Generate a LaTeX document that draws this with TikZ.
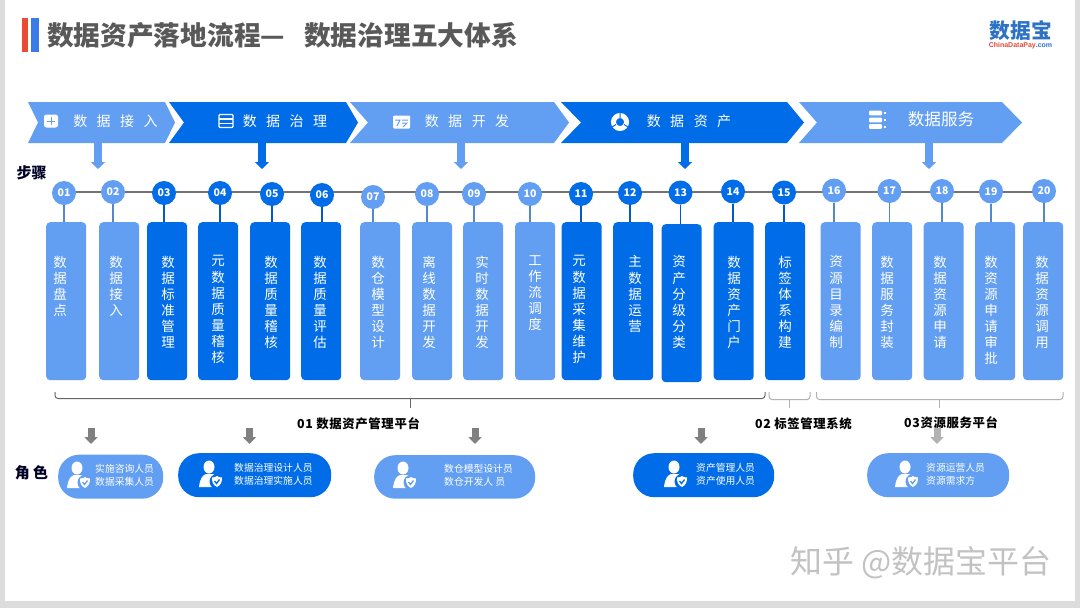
\documentclass[tikz,border=0pt]{standalone}
\usepackage{fontspec}
\usetikzlibrary{arrows.meta,backgrounds}
\setmainfont{Noto Sans CJK SC}
\newfontfamily\latinfont{Liberation Sans}
\newfontfamily\wideboldfont[LetterSpace=5]{Noto Sans CJK SC}
\newcommand{\fsz}[2]{\fontsize{#1}{#2}\selectfont}
\newcommand{\wsp}[1]{\spaceskip #1\relax}
\definecolor{stepl}{HTML}{629FF2}
\definecolor{stepd}{HTML}{006CE8}
\definecolor{pagegray}{HTML}{DCDCDC}
\definecolor{barred}{HTML}{E94B35}
\definecolor{barblue}{HTML}{3B7BE8}
\definecolor{logoblue}{HTML}{2E72C6}
\definecolor{logored}{HTML}{E5483A}
\tikzset{
  numdot/.style={circle,fill=#1,text=white,minimum size=24pt,inner sep=0pt,font=\fsz{10.5}{11}\bfseries},
  stepbox/.style={rectangle,fill=#1,rounded corners=4pt,minimum width=40pt,minimum height=158pt,inner sep=0pt,anchor=north west},
  steptext/.style={anchor=north,inner sep=0pt,align=center,text=white,font=\fsz{13.5}{16.1}},
  phasetext/.style={inner sep=0pt,text=white,font=\fsz{14}{16}\wsp{9.5pt}},
  pillbox/.style={rectangle,fill=#1,rounded corners=21pt,inner sep=0pt},
  pilltext/.style={anchor=west,inner sep=0pt,align=left,text=white,font=\fsz{9.8}{13}},
  bracket/.style={rounded corners=3pt,line width=1pt},
  sidetext/.style={inner sep=0pt,text=black!85!blue,font=\fsz{15}{16}\bfseries\wsp{3pt}},
  platform/.style={anchor=west,inner sep=0pt,font=\wideboldfont\fsz{12.4}{14}\bfseries},
  downarrow/.style={line width=8pt,-{Triangle[length=7pt,width=14pt]}},
  rolearrow/.style={line width=7pt,-{Triangle[length=7pt,width=13pt]}},
  personicon/.pic={
    \fill[white] (-1,-7) ellipse (5.5 and 6.5);
    \fill[white] (-11,13) .. controls (-10,4) and (-7,1) .. (-4,0) -- (3,0) .. controls (7,1) and (9,6) .. (9,13) -- cycle;
    \fill[\col] (7,7.5) circle (7.5);
    \fill[white] (2,3.5) .. controls (4,3.5) and (6,3) .. (7,2) .. controls (8,3) and (10,3.5) .. (12,3.5) .. controls (12,8) and (11,11) .. (7,13) .. controls (3,11) and (2,8) .. (2,3.5) -- cycle;
    \draw[\col,line width=1.3pt] (4.5,7) -- (6.5,9.5) -- (9.5,5.5);
  }
}
\begin{document}
\begin{tikzpicture}[x=1pt,y=-1pt]
  \useasboundingbox (0,0) rectangle (1080,608);
  \begin{scope}[on background layer]
    \fill[pagegray] (0,0) rectangle (1080,608);
    \fill[white] (4.5,0) rectangle (1074.5,601);
  \end{scope}
  % title
  \fill[barred] (22,18) rectangle (28,52);
  \fill[barblue] (31,18) rectangle (39,52);
  \node[anchor=west,inner sep=0pt,text=black!65,font=\fsz{26.7}{30}\bfseries\wsp{19pt}] (title) at (47,35) {数据资产落地流程— 数据治理五大体系};
  \node[inner sep=0pt,text=logoblue,font=\fsz{20.7}{22}\bfseries] (logo) at (1021,31) {数据宝};
  \node[inner sep=0pt,text=logored,font=\latinfont\fsz{7}{8}\bfseries] (logosub) at (1020.5,46) {ChinaDataPay\textcolor{logoblue}{.com}};
  % phases
  \foreach \i/\xa/\xb/\xt/\xn/\col/\ax in {1/28/165/175/38/stepl/98,2/169/346/358/184/stepd/262,3/350/554/569/368/stepl/461,4/561/787/804/581/stepd/685,5/799/1002/1022/817/stepl/929}{
    \fill[\col] (\xa,102) -- (\xb,102) -- (\xt,122.5) -- (\xb,143) -- (\xa,143) -- (\xn,122.5) -- cycle;
    \coordinate (ph\i) at (\ax,142);
    \coordinate (phe\i) at (\ax,169);
    \draw[downarrow,\col] (ph\i) -- (phe\i);
  }
  \node[phasetext] (ph1text) at (115.5,121.5) {数 据 接 入};
  \node[phasetext] (ph2text) at (285,121) {数 据 治 理};
  \node[phasetext] (ph3text) at (467,121) {数 据 开 发};
  \node[phasetext] (ph4text) at (689,121) {数 据 资 产};
  \node[phasetext,font=\fsz{16.6}{18}] (ph5text) at (941,119) {数据服务};
  % phase icons
  \fill[white,rounded corners=2.5pt] (44,114.5) rectangle (58,127.5);
  \draw[stepl,line width=1pt] (51,117) -- (51,125) (47,121) -- (55,121);
  \draw[white,line width=1.4pt,rounded corners=1pt] (219,114.5) rectangle (233,127.5);
  \draw[white,line width=1.4pt] (219,119) -- (233,119) (219,123.5) -- (233,123.5);
  \fill[white,rounded corners=1pt] (393,115.5) rectangle (410,128.5);
  \draw[stepl,line width=1pt] (395,120) -- (400,120) -- (397,126) (402,120) -- (408,120) (402,123) -- (407,123) -- (403,127);
  \draw[white,line width=5pt] (620,122) circle (6.5);
  \draw[stepd,line width=1pt] (620,113) -- (620,118) (612,127) -- (616,124.5) (628,127) -- (624,124.5);
  \foreach \yb in {113,120,126.5}{
    \fill[white,rounded corners=1pt] (869,\yb-2.3) rectangle (882,\yb+2.3);
    \fill[white] (883.5,\yb-1) rectangle (885.5,\yb+1);
  }
  % steps
  \node[sidetext] (steplabel) at (31.5,173) {步骤};
  \foreach \n/\cx/\cy/\bx/\by/\tx/\col/\txt in {
    01/64/193/46/222/60/stepl/{数\\据\\盘\\点},
    02/113/192/99/222/116/stepl/{数\\据\\接\\入},
    03/164/193/147/222/168/stepd/{数\\据\\标\\准\\管\\理},
    04/220/193/198/222/218/stepd/{元\\数\\据\\质\\量\\稽\\核},
    05/272/194/250/222/271/stepd/{数\\据\\质\\量\\稽\\核},
    06/322/195/301/222/320/stepd/{数\\据\\质\\量\\评\\估},
    07/373/197/360/222/378/stepl/{数\\仓\\模\\型\\设\\计},
    08/427/194/412/222/429/stepl/{离\\线\\数\\据\\开\\发},
    09/474/194/463/222/482/stepl/{实\\时\\数\\据\\开\\发},
    10/530/194/515/222/535/stepl/{工\\作\\流\\调\\度},
    11/581/194/561.5/222/579/stepd/{元\\数\\据\\采\\集\\维\\护},
    12/630/193/613/222/635/stepd/{主\\数\\据\\运\\营},
    13/680.5/192.5/661.5/224/679/stepd/{资\\产\\分\\级\\分\\类},
    14/733/191.5/713.5/222/734/stepd/{数\\据\\资\\产\\门\\户},
    15/784/192.5/765/222/785/stepd/{标\\签\\体\\系\\构\\建},
    16/834/190.5/820.5/222/836/stepl/{资\\源\\目\\录\\编\\制},
    17/889.5/191/872/222/887/stepl/{数\\据\\服\\务\\封\\装},
    18/942/191/923.5/222/940/stepl/{数\\据\\资\\源\\申\\请},
    19/991/191.5/975/222/991/stepl/{数\\资\\源\\申\\请\\审\\批},
    20/1044/191/1023/222/1042/stepl/{数\\据\\资\\源\\调\\用}}{
    \node[stepbox=\col] (b\n) at (\bx,\by) {};
    \node[steptext] (t\n) at (\tx,255.5) {\txt};
    \node[numdot=\col] (c\n) at (\cx,\cy) {\n};
    \draw[\col!85!black,line width=1.5pt] (c\n.south) -- (c\n.south |- b\n.north);
  }
  \coordinate (spine) at (0,191.5);
  \begin{scope}[on background layer]
    \draw[black!55,line width=2pt] (c01 |- spine) -- (c20 |- spine);
  \end{scope}
  % platforms
  \foreach \l/\m/\r/\yb/\gr in {55/410/765/398.5/60,769/789/810/399.5/30,816.5/939.5/1063/399.5/30}{
    \draw[bracket,black!\gr!white] (\l,392) -- (\l,\yb) -- (\r,\yb) -- (\r,392);
    \draw[line width=1pt,black!\gr!white] (\m,\yb) -- (\m,408);
  }
  % role arrows
  \foreach \i/\ax/\gr in {1/91/50,2/249.5/50,3/475/50,4/701/50,5/937/30}{
    \coordinate (ra\i) at (\ax,428);
    \coordinate (rae\i) at (\ax,444);
    \draw[rolearrow,black!\gr] (ra\i) -- (rae\i);
  }
  \node[platform] (plat1) at (297,423.5) {01 数据资产管理平台};
  \node[platform] (plat2) at (755,423.5) {02 标签管理系统};
  \node[platform] (plat3) at (904,422.5) {03资源服务平台};
  % roles
  \node[sidetext,font=\fsz{15}{16}\bfseries\wsp{3.5pt}] (rolelabel) at (31.5,472.5) {角 色};
  \foreach \i/\xa/\xb/\ya/\yb/\ix/\iy/\tx/\col/\txt in {
    1/58/163/454.5/498.5/78/475/95/stepl/{实施咨询人员\\数据采集人员},
    2/178/331/453/497/210/474/234/stepd/{数据治理设计人员\\数据治理实施人员},
    3/374/535/455/498.5/404/475/444/stepl/{数仓模型设计员\\数仓开发人 员},
    4/633/774/453/497/675/474/696/stepd/{资产管理人员\\资产使用人员},
    5/867/1009/453/497/906/474/926/stepl/{资源运营人员\\资源需求方}}{
    \pgfmathsetmacro{\pw}{\xb-\xa}
    \pgfmathsetmacro{\ph}{\yb-\ya}
    \node[pillbox=\col,minimum width=\pw pt,minimum height=\ph pt,anchor=north west] (p\i) at (\xa,\ya) {};
    \node[pilltext] (pt\i) at (\tx,\iy) {\txt};
    \pic at (\ix,\iy) {personicon};
  }
  % watermark
  \node[inner sep=0pt,text=black!24,font=\fsz{31.9}{34}] (mark) at (921,563) {知乎 @数据宝平台};
\end{tikzpicture}
\end{document}
